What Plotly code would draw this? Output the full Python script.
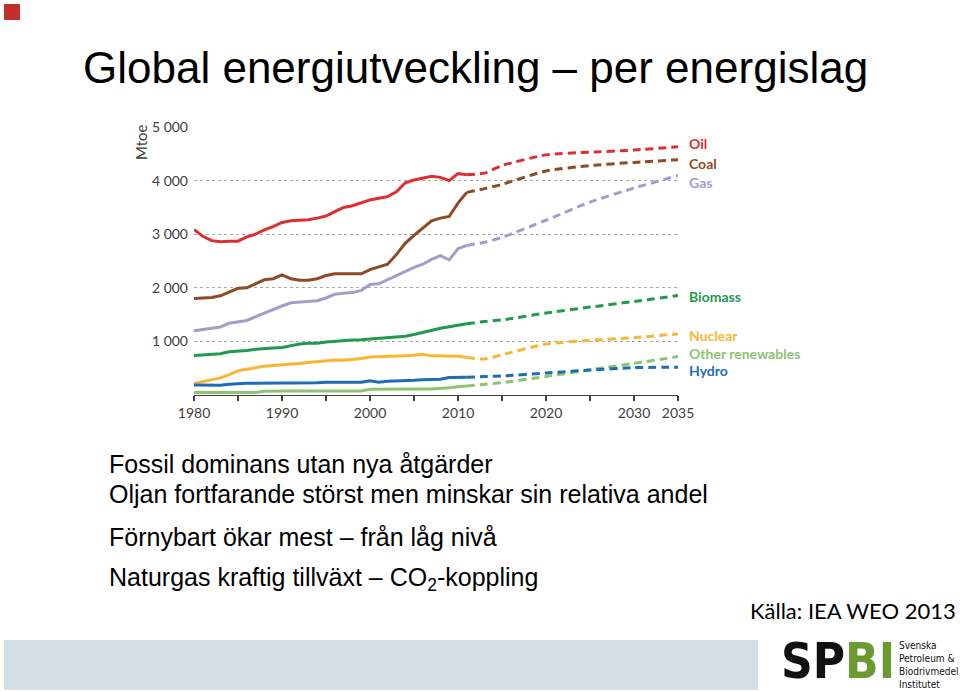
import plotly.graph_objects as go

# ---------------- data (Mtoe) ----------------
hist_years = list(range(1980, 2012))
proj_years = [2011, 2013, 2015, 2020, 2025, 2030, 2035]

oil_hist = [3090, 2960, 2880, 2860, 2870, 2870, 2950, 3000, 3080, 3140, 3220, 3250, 3260, 3270, 3300, 3340,
            3420, 3500, 3530, 3580, 3640, 3670, 3700, 3790, 3960, 4010, 4040, 4080, 4060, 4000, 4130, 4110]
oil_proj = [4110, 4140, 4280, 4480, 4530, 4570, 4630]

coal_hist = [1800, 1805, 1820, 1850, 1920, 1990, 2000, 2080, 2150, 2170, 2240, 2170, 2140, 2140, 2170, 2230,
             2260, 2260, 2260, 2260, 2340, 2390, 2440, 2620, 2830, 2980, 3120, 3250, 3300, 3330, 3580, 3780]
coal_proj = [3780, 3850, 3930, 4180, 4280, 4340, 4390]

gas_hist = [1200, 1225, 1240, 1270, 1340, 1370, 1390, 1460, 1530, 1600, 1660, 1720, 1730, 1745, 1760, 1810,
            1880, 1900, 1910, 1950, 2060, 2075, 2150, 2230, 2310, 2380, 2440, 2530, 2600, 2520, 2730, 2790]
gas_proj = [2790, 2850, 2940, 3260, 3600, 3860, 4095]

biomass_hist = [735, 750, 760, 770, 805, 815, 830, 855, 870, 875, 885, 915, 950, 965, 965, 990,
                1005, 1010, 1025, 1030, 1045, 1055, 1070, 1090, 1095, 1130, 1170, 1215, 1245, 1275, 1300, 1330]
biomass_proj = [1330, 1370, 1400, 1530, 1640, 1745, 1855]

nuclear_hist = [215, 250, 285, 320, 380, 450, 480, 510, 535, 550, 560, 580, 590, 605, 620, 635,
                655, 650, 660, 680, 710, 715, 720, 715, 730, 740, 760, 730, 725, 725, 725, 700]
nuclear_proj = [700, 670, 750, 950, 1020, 1070, 1140]

other_hist = [45, 45, 45, 45, 45, 45, 45, 45, 70, 75, 75, 75, 75, 75, 75, 75,
              75, 75, 75, 75, 105, 108, 108, 108, 110, 110, 110, 110, 120, 135, 155, 170]
other_proj = [170, 200, 230, 345, 470, 590, 717]

hydro_hist = [185, 185, 180, 180, 200, 215, 220, 220, 225, 225, 225, 225, 225, 228, 230, 240,
              240, 240, 240, 240, 265, 240, 258, 260, 268, 275, 285, 290, 295, 325, 330, 330]
hydro_proj = [330, 345, 355, 410, 465, 510, 520]

series_names = ["Oil", "Coal", "Gas", "Biomass", "Nuclear", "Other renewables", "Hydro"]
series_colors = ["#E02D2F", "#8E4B22", "#A69CC9", "#1F9B4B", "#F7B733", "#8DC472", "#1D6DB4"]
hist_values = [oil_hist, coal_hist, gas_hist, biomass_hist, nuclear_hist, other_hist, hydro_hist]
proj_values = [oil_proj, coal_proj, gas_proj, biomass_proj, nuclear_proj, other_proj, hydro_proj]
label_y_px = [143, 163, 182, 296, 335, 353, 370]

x_tickvals = [1980, 1990, 2000, 2010, 2020, 2030, 2035]
x_ticktext = ["1980", "1990", "2000", "2010", "2020", "2030", "2035"]
x_minor_tickvals = [1985, 1995, 2005, 2015, 2025]
y_tickvals = [1000, 2000, 3000, 4000, 5000]
y_ticktext = ["1 000", "2 000", "3 000", "4 000", "5 000"]

title_text = "Global energiutveckling – per energislag"
bullets = ["Fossil dominans utan nya åtgärder",
           "Oljan fortfarande störst men minskar sin relativa andel",
           "Förnybart ökar mest – från låg nivå",
           "Naturgas kraftig tillväxt – CO<sub>2</sub>-koppling"]
bullet_y_px = [464, 494, 537, 579]

# ---------------- layout helpers ----------------
W, H = 960, 692
L, R, T, B = 194, 282, 127, 297
PW, PH = W - L - R, H - T - B


def px(x):
    return (x - L) / PW


def py(y):
    return (H - B - y) / PH


fig = go.Figure()
for name, col, hv, pv in zip(series_names, series_colors, hist_values, proj_values):
    fig.add_trace(go.Scatter(x=hist_years, y=hv, mode="lines", name=name,
                             line=dict(color=col, width=3), showlegend=False, hoverinfo="skip"))
    fig.add_trace(go.Scatter(x=proj_years, y=pv, mode="lines", name=name + " (proj.)",
                             line=dict(color=col, width=3, dash="8px,5px", shape="spline", smoothing=0.6),
                             showlegend=False, hoverinfo="skip"))

annotations = []
for name, col, ly in zip(series_names, series_colors, label_y_px):
    annotations.append(dict(x=px(687), y=py(ly), xref="paper", yref="paper", text="<b>%s</b>" % name,
                            showarrow=False, xanchor="left", yanchor="middle",
                            font=dict(family="Lato", size=14, color=col)))

annotations.append(dict(x=px(141), y=py(142), xref="paper", yref="paper", text="Mtoe", textangle=-90,
                        showarrow=False, xanchor="center", yanchor="middle",
                        font=dict(family="Lato", size=15, color="#404040")))

annotations.append(dict(x=px(81), y=py(67), xref="paper", yref="paper", text=title_text,
                        showarrow=False, xanchor="left", yanchor="middle",
                        font=dict(family="Liberation Sans, Arial", size=44, color="black")))

for t, by in zip(bullets, bullet_y_px):
    annotations.append(dict(x=px(107), y=py(by), xref="paper", yref="paper", text=t,
                            showarrow=False, xanchor="left", yanchor="middle",
                            font=dict(family="Liberation Sans, Arial", size=25, color="black")))

annotations.append(dict(x=px(958), y=py(610), xref="paper", yref="paper", text="Källa: IEA WEO 2013",
                        showarrow=False, xanchor="right", yanchor="middle",
                        font=dict(family="Lato", size=22, color="black")))

annotations.append(dict(x=px(779), y=py(661), xref="paper", yref="paper",
                        text="<span style='font-stretch:condensed'><b><span style='color:#111111'>SP</span>"
                             "<span style='color:#6B9B30'>BI</span></b></span>",
                        showarrow=False, xanchor="left", yanchor="middle",
                        font=dict(family="DejaVu Sans", size=49, color="#111111")))

annotations.append(dict(x=px(897), y=py(665), xref="paper", yref="paper",
                        text="<span style='font-stretch:condensed'>Svenska<br>Petroleum &amp;<br>"
                             "Biodrivmedel<br>Institutet</span>",
                        showarrow=False, xanchor="left", yanchor="middle", align="left",
                        font=dict(family="DejaVu Sans", size=10, color="#111111")))

shapes = [
    dict(type="rect", xref="paper", yref="paper", x0=px(4), x1=px(20), y0=py(4), y1=py(20),
         fillcolor="#C0312B", line=dict(width=0)),
    dict(type="rect", xref="paper", yref="paper", x0=px(4), x1=px(758), y0=py(640), y1=py(690),
         fillcolor="#D3DFE5", line=dict(width=0), layer="below"),
]

fig.update_layout(
    width=W, height=H, autosize=False,
    margin=dict(l=L, r=R, t=T, b=B),
    paper_bgcolor="white", plot_bgcolor="white",
    showlegend=False,
    annotations=annotations, shapes=shapes,
    xaxis=dict(range=[1980, 2035], tickmode="array", tickvals=x_tickvals, ticktext=x_ticktext,
               showgrid=False, zeroline=False, showline=True, linecolor="#404040", linewidth=1,
               ticks="outside", ticklen=5, tickwidth=1.5, tickcolor="#404040",
               minor=dict(tickmode="array", tickvals=x_minor_tickvals, ticks="outside", ticklen=5,
                          tickwidth=1.5, tickcolor="#404040", showgrid=False),
               tickfont=dict(family="Lato", size=14, color="#404040")),
    yaxis=dict(range=[0, 5000], tickmode="array", tickvals=y_tickvals, ticktext=y_ticktext,
               showgrid=True, gridcolor="#A8A8A8", griddash="dot", gridwidth=1,
               zeroline=False, showline=False, ticks="", ticklabelstandoff=5,
               tickfont=dict(family="Lato", size=14, color="#404040")),
)

fig.write_html("out.html", config={"displayModeBar": False},
               post_script="document.body.style.margin='0';document.body.style.overflow='hidden';")
